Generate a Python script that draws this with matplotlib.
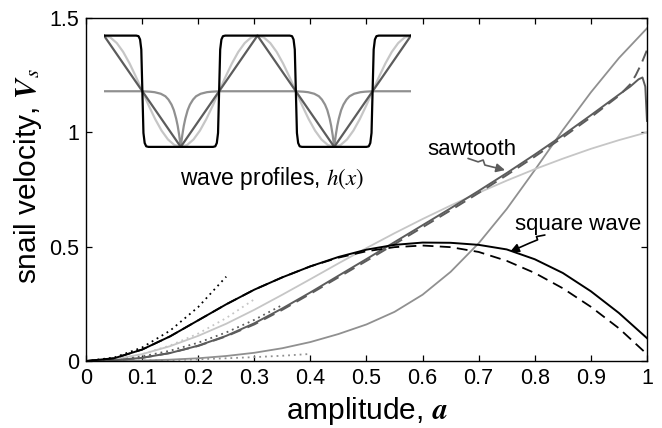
import matplotlib
matplotlib.use('Agg')
import matplotlib.pyplot as plt
from matplotlib.patches import FancyArrowPatch
from matplotlib.path import Path

plt.rcParams['font.family'] = ['Liberation Sans', 'DejaVu Sans']
plt.rcParams['mathtext.fontset'] = 'stix'

# amplitude grid
amp = [0.0, 0.05, 0.1, 0.15, 0.2, 0.25, 0.3, 0.35, 0.4, 0.45, 0.5,
       0.55, 0.6, 0.65, 0.7, 0.75, 0.8, 0.85, 0.9, 0.95, 1.0]

# square wave: full solution and approximation
square_full = [0.0, 0.012, 0.05, 0.108, 0.178, 0.248, 0.312, 0.366, 0.414, 0.455, 0.487,
               0.508, 0.518, 0.517, 0.508, 0.488, 0.445, 0.385, 0.305, 0.21, 0.10]
square_approx = [0.0, 0.012, 0.05, 0.108, 0.178, 0.248, 0.312, 0.366, 0.414, 0.452, 0.48,
                 0.498, 0.505, 0.498, 0.477, 0.438, 0.385, 0.318, 0.237, 0.143, 0.03]

# sawtooth (triangle profile), finer near the end
amp_saw = [0.0, 0.05, 0.1, 0.15, 0.2, 0.25, 0.3, 0.35, 0.4, 0.45, 0.5,
           0.55, 0.6, 0.65, 0.7, 0.75, 0.8, 0.85, 0.9, 0.95, 0.97, 0.985, 0.992, 0.997, 1.0]
saw_full = [0.0, 0.003, 0.014, 0.035, 0.067, 0.11, 0.165, 0.23, 0.3, 0.373, 0.446,
            0.52, 0.594, 0.668, 0.744, 0.822, 0.903, 0.987, 1.075, 1.165, 1.2, 1.232, 1.24, 1.2, 1.05]
amp_saw_approx = [0.0, 0.05, 0.1, 0.15, 0.2, 0.25, 0.3, 0.35, 0.4, 0.45, 0.5,
                  0.55, 0.6, 0.65, 0.7, 0.75, 0.8, 0.85, 0.9, 0.95, 0.97, 0.98, 0.99, 1.0]
saw_approx = [0.0, 0.003, 0.014, 0.035, 0.066, 0.108, 0.16, 0.224, 0.294, 0.366, 0.438,
              0.511, 0.585, 0.659, 0.735, 0.813, 0.894, 0.978, 1.066, 1.16, 1.21, 1.25, 1.3, 1.36]

# sinusoid and cusped profile
sine_full = [0.0, 0.008, 0.03, 0.065, 0.11, 0.163, 0.224, 0.29, 0.358, 0.427, 0.494,
             0.559, 0.621, 0.68, 0.736, 0.789, 0.839, 0.885, 0.928, 0.966, 1.0]
cusp_full = [0.0, 0.0005, 0.002, 0.006, 0.012, 0.022, 0.036, 0.056, 0.083, 0.118, 0.16,
             0.215, 0.29, 0.39, 0.515, 0.665, 0.835, 1.01, 1.175, 1.325, 1.455]

# small-amplitude asymptotes (dotted)
amp_small_sq = [0.0, 0.05, 0.1, 0.15, 0.2, 0.25]
square_small = [0.0, 0.015, 0.059, 0.133, 0.236, 0.369]
amp_small_sine = [0.0, 0.05, 0.1, 0.15, 0.2, 0.25, 0.3]
sine_small = [0.0, 0.0075, 0.03, 0.068, 0.12, 0.188, 0.27]
amp_small_saw = [0.0, 0.05, 0.1, 0.15, 0.2, 0.25, 0.3, 0.35]
saw_small = [0.0, 0.005, 0.02, 0.045, 0.08, 0.125, 0.18, 0.245]
amp_small_cusp = [0.0, 0.05, 0.1, 0.15, 0.2, 0.25, 0.3, 0.35, 0.4]
cusp_small = [0.0, 0.0005, 0.002, 0.0043, 0.0077, 0.012, 0.017, 0.023, 0.031]

# wave profiles h(x), one period (x in periods)
prof_sq_x = [0, 0.21, 0.225, 0.235, 0.243, 0.25, 0.257, 0.265, 0.275, 0.29,
             0.71, 0.725, 0.735, 0.743, 0.75, 0.757, 0.765, 0.775, 0.79, 1.0]
prof_sq_h = [1, 1, 0.99, 0.93, 0.75, 0, -0.75, -0.93, -0.99, -1,
             -1, -0.99, -0.93, -0.75, 0, 0.75, 0.93, 0.99, 1, 1]
prof_tri_x = [0, 0.5, 1.0]
prof_tri_h = [1, -1, 1]
prof_sin_x = [k / 24 for k in range(25)]
prof_sin_h = [1, 0.966, 0.866, 0.707, 0.5, 0.259, 0, -0.259, -0.5, -0.707, -0.866, -0.966, -1,
              -0.966, -0.866, -0.707, -0.5, -0.259, 0, 0.259, 0.5, 0.707, 0.866, 0.966, 1]
prof_cusp_x = [0, 0.25, 0.3, 0.33, 0.37, 0.4, 0.42, 0.44, 0.455, 0.47, 0.48, 0.49, 0.5,
               0.51, 0.52, 0.53, 0.545, 0.56, 0.58, 0.6, 0.63, 0.67, 0.7, 0.75, 1.0]
prof_cusp_h = [0, 0, -0.008, -0.017, -0.045, -0.09, -0.15, -0.24, -0.34, -0.49, -0.62, -0.79, -1,
               -0.79, -0.62, -0.49, -0.34, -0.24, -0.15, -0.09, -0.045, -0.017, -0.008, 0, 0]

BLACK = '#000000'
DARK = '#5c5c5c'
MID = '#909090'
LIGHT = '#c6c6c6'


def two_periods(xs, hs):
    return xs + [1 + v for v in xs[1:]], hs + hs[1:]


fig = plt.figure(figsize=(6.62, 4.28), dpi=100)
ax = fig.add_axes([0.1299, 0.1565, 0.8474, 0.8014])

dots = (0, (1, 2.2))
ax.plot(amp_small_cusp, cusp_small, color=MID, lw=1.3, ls=dots)
ax.plot(amp_small_sine, sine_small, color=LIGHT, lw=1.3, ls=dots)
ax.plot(amp_small_saw, saw_small, color=DARK, lw=1.3, ls=dots)
ax.plot(amp_small_sq, square_small, color=BLACK, lw=1.3, ls=dots)

ax.plot(amp, cusp_full, color=MID, lw=1.3)
ax.plot(amp, sine_full, color=LIGHT, lw=1.3)
ax.plot(amp_saw_approx, saw_approx, color=DARK, lw=1.4, ls=(0, (6, 3.5)))
ax.plot(amp_saw, saw_full, color=DARK, lw=1.4)
ax.plot(amp, square_approx, color=BLACK, lw=1.3, ls=(0, (6, 3.5)))
ax.plot(amp, square_full, color=BLACK, lw=1.4)

ax.set_xlim(0, 1)
ax.set_ylim(0, 1.5)
ax.set_xticks([0, 0.1, 0.2, 0.3, 0.4, 0.5, 0.6, 0.7, 0.8, 0.9, 1])
ax.set_xticklabels(['0', '0.1', '0.2', '0.3', '0.4', '0.5', '0.6', '0.7', '0.8', '0.9', '1'])
ax.set_yticks([0, 0.5, 1, 1.5])
ax.set_yticklabels(['0', '0.5', '1', '1.5'])
ax.tick_params(direction='in', length=4, width=0.9, top=True, right=True,
               labelsize=15.5, pad=5)
for s in ax.spines.values():
    s.set_linewidth(1.0)

ax.set_xlabel(r'amplitude, $\mathbfit{a}$', fontsize=21.5)
ax.set_ylabel(r'snail velocity, $\mathbfit{V}_s$', fontsize=21.5)
ax.xaxis.set_label_coords(0.5, -0.1)
ax.yaxis.set_label_coords(-0.075, 0.54)

# annotations with little squiggly arrows
ax.text(0.688, 0.923, 'sawtooth', fontsize=16, ha='center', va='center')
saw_path = Path([(0.681, 0.886), (0.699, 0.871), (0.708, 0.879), (0.711, 0.857), (0.747, 0.835)])
ax.add_patch(FancyArrowPatch(path=saw_path, arrowstyle='-|>', mutation_scale=13,
                             color=DARK, lw=1.2))
ax.text(0.877, 0.595, 'square wave', fontsize=16, ha='center', va='center')
sq_path = Path([(0.818, 0.551), (0.803, 0.544), (0.805, 0.530), (0.791, 0.516), (0.756, 0.478)])
ax.add_patch(FancyArrowPatch(path=sq_path, arrowstyle='-|>', mutation_scale=13,
                             color=BLACK, lw=1.2))

# inset with the wave profiles
ins = fig.add_axes([0.1571, 0.6542, 0.4637, 0.2652])
ins.set_axis_off()
for xs, hs, c in [(prof_sin_x, prof_sin_h, LIGHT), (prof_cusp_x, prof_cusp_h, MID),
                  (prof_tri_x, prof_tri_h, DARK), (prof_sq_x, prof_sq_h, BLACK)]:
    px, ph = two_periods(xs, hs)
    ins.plot(px, ph, color=c, lw=1.6, solid_joinstyle='round')
ins.set_xlim(0, 2)
ins.set_ylim(-1.02, 1.02)
fig.text(272 / 662, 1 - 178 / 428, r'wave profiles, $h(x)$', fontsize=16.5,
         ha='center', va='center')

fig.savefig('out.png', dpi=100)
